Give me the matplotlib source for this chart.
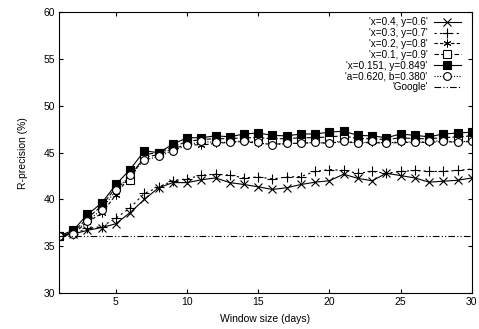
import matplotlib
matplotlib.use("Agg")
import matplotlib.pyplot as plt

plt.rcParams['font.family'] = ['Liberation Sans', 'DejaVu Sans']

days = list(range(1, 31))

s_x04 = [36.1, 36.3, 36.7, 37.0, 37.4, 38.6, 40.0, 41.25, 41.8, 41.8,
         42.1, 42.3, 41.8, 41.6, 41.35, 41.07, 41.25, 41.6, 41.85, 42.0,
         42.7, 42.25, 42.0, 42.8, 42.55, 42.3, 41.85, 41.95, 42.05, 42.3]
s_x03 = [36.1, 36.3, 36.9, 37.1, 38.0, 39.1, 40.65, 41.3, 42.0, 42.2,
         42.6, 42.7, 42.6, 42.3, 42.4, 42.2, 42.4, 42.45, 43.0, 43.2,
         43.1, 42.8, 43.0, 42.8, 43.0, 43.1, 43.0, 43.0, 43.1, 43.25]
s_x02 = [36.1, 36.3, 37.6, 38.5, 40.5, 42.5, 44.5, 44.8, 45.4, 45.9,
         45.8, 46.0, 46.1, 46.2, 46.0, 45.9, 46.0, 46.0, 46.1, 46.0,
         46.2, 46.0, 46.1, 46.0, 46.1, 46.1, 46.1, 46.2, 46.1, 46.2]
s_x01 = [36.1, 36.5, 38.0, 39.3, 41.3, 42.1, 44.8, 45.0, 45.6, 46.2,
         46.4, 46.5, 46.5, 46.6, 46.6, 46.5, 46.5, 46.6, 46.6, 46.7,
         46.8, 46.5, 46.5, 46.4, 46.6, 46.5, 46.5, 46.6, 46.7, 46.8]
s_x0151 = [36.1, 36.7, 38.4, 39.6, 41.6, 43.2, 45.2, 45.0, 45.9, 46.6,
           46.6, 46.8, 46.7, 47.0, 47.1, 46.85, 46.8, 47.0, 47.0, 47.2,
           47.3, 46.85, 46.8, 46.6, 47.0, 46.85, 46.7, 47.0, 47.1, 47.2]
s_a062 = [36.1, 36.35, 37.7, 38.9, 41.0, 42.6, 44.2, 44.6, 45.2, 45.8,
          46.2, 46.1, 46.1, 46.3, 46.1, 45.8, 46.0, 46.0, 46.1, 46.0,
          46.3, 46.0, 46.2, 46.0, 46.2, 46.1, 46.2, 46.3, 46.1, 46.3]
google = 36.1

labels = ["'x=0.4, y=0.6'", "'x=0.3, y=0.7'", "'x=0.2, y=0.8'", "'x=0.1, y=0.9'",
          "'x=0.151, y=0.849'", "'a=0.620, b=0.380'", "'Google'"]

fig = plt.figure(figsize=(4.79, 3.29), dpi=100)
ax = fig.add_axes([0.123, 0.1094, 0.862, 0.853])

lw = 0.8
ms = 5.6
ax.plot(days, s_x04, color='black', lw=lw, ls='-', marker='x', ms=ms, mew=0.8, label=labels[0])
ax.plot(days, s_x03, color='black', lw=lw, ls=(0, (2, 3)), marker='+', ms=ms + 1, mew=0.8, label=labels[1])
ax.plot(days, s_x02, color='black', lw=lw, ls=(0, (3, 2)), marker=(6, 2, 0), ms=ms, mew=0.7, label=labels[2])
ax.plot(days, s_x01, color='black', lw=lw, ls=(0, (4, 2)), marker='s', ms=ms, mew=0.8,
        mfc='white', mec='black', label=labels[3])
ax.plot(days, s_x0151, color='black', lw=lw, ls='-', marker='s', ms=ms, mew=0.8,
        mfc='black', mec='black', label=labels[4])
ax.plot(days, s_a062, color='black', lw=lw, ls=(0, (1, 1.5)), marker='o', ms=ms, mew=0.8,
        mfc='white', mec='black', label=labels[5])
ax.axhline(google, color='black', lw=lw, ls=(0, (6, 2, 1, 2, 1, 2)), label=labels[6])

ax.set_xlim(1, 30)
ax.set_ylim(30, 60)
ax.set_xticks([5, 10, 15, 20, 25, 30])
ax.set_yticks([30, 35, 40, 45, 50, 55, 60])
ax.tick_params(direction='in', top=True, right=True, labelsize=7.5, length=3, width=0.8, pad=3)
for sp in ax.spines.values():
    sp.set_linewidth(0.8)

ax.set_xlabel('Window size (days)', fontsize=7.5, labelpad=5)
ax.set_ylabel('R-precision (%)', fontsize=7.5, labelpad=11)

leg = ax.legend(loc='upper right', frameon=False, markerfirst=False, fontsize=7.2,
                handlelength=2.7, labelspacing=0.08, handletextpad=0.6,
                borderaxespad=0.1, bbox_to_anchor=(0.985, 1.0))

fig.savefig('out.png', dpi=100)
